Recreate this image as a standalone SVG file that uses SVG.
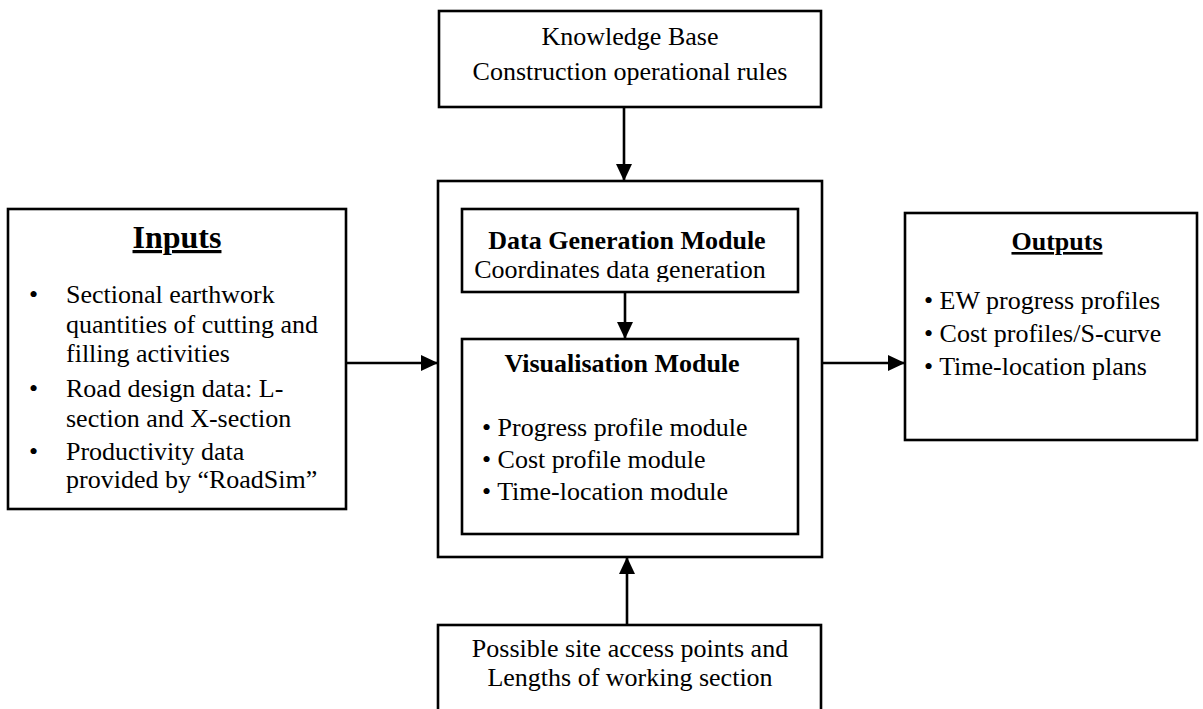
<svg xmlns="http://www.w3.org/2000/svg" width="1203" height="709" viewBox="0 0 1203 709">
<style>
.box{fill:#fff;stroke:#000;stroke-width:2.6}
.t{font-family:"Liberation Serif","Times New Roman",serif;font-size:26px;fill:#000}
.b{font-weight:bold}
.c{text-anchor:middle}
.u{text-decoration:underline}
.conn{stroke:#000;stroke-width:2.6;fill:none;marker-end:url(#ah)}
</style>
<defs>
<marker id="ah" markerWidth="17" markerHeight="16" viewBox="0 0 17 16" refX="17" refY="8" orient="auto" markerUnits="userSpaceOnUse">
<path d="M0,0 L17,8 L0,16 Z" fill="#000"/>
</marker>
<clipPath id="dgclip"><rect x="462" y="209" width="336" height="73"/></clipPath>
</defs>
<rect width="1203" height="709" fill="#fff"/>
<g id="knowledge-base">
<rect class="box" x="439" y="11" width="382" height="96"/>
<text class="t c" x="630" y="45">Knowledge Base</text>
<text class="t c" x="630" y="80">Construction operational rules</text>
</g>
<g id="inputs">
<rect class="box" x="8" y="209" width="338" height="300"/>
<text class="t b c u" x="177" y="248" style="font-size:32px">Inputs</text>
<text class="t" x="29" y="303">•</text><text class="t" x="66" y="303">Sectional earthwork</text>
<text class="t" x="66" y="333">quantities of cutting and</text>
<text class="t" x="66" y="362">filling activities</text>
<text class="t" x="29" y="397">•</text><text class="t" x="66" y="397">Road design data: L-</text>
<text class="t" x="66" y="427">section and X-section</text>
<text class="t" x="29" y="460">•</text><text class="t" x="66" y="460">Productivity data</text>
<text class="t" x="66" y="488">provided by “RoadSim”</text>
</g>
<g id="main">
<rect class="box" x="438" y="181" width="384" height="376"/>
</g>
<g id="data-generation">
<rect class="box" x="462" y="209" width="336" height="83"/>
<text class="t b c" x="627" y="249">Data Generation Module</text>
<text class="t c" x="620" y="278" clip-path="url(#dgclip)">Coordinates data generation</text>
</g>
<g id="visualisation">
<rect class="box" x="462" y="339" width="336" height="195"/>
<text class="t b c" x="622" y="372">Visualisation Module</text>
<text class="t" x="482" y="436">• Progress profile module</text>
<text class="t" x="482" y="468">• Cost profile  module</text>
<text class="t" x="482" y="500">• Time-location  module</text>
</g>
<g id="outputs">
<rect class="box" x="905" y="213" width="292" height="227"/>
<text class="t b c u" x="1057" y="250">Outputs</text>
<text class="t" x="924" y="309">• EW progress profiles</text>
<text class="t" x="924" y="342">• Cost profiles/S-curve</text>
<text class="t" x="924" y="375">• Time-location plans</text>
</g>
<g id="site-access">
<rect class="box" x="438" y="625" width="383" height="100"/>
<text class="t c" x="630" y="657">Possible site access points and</text>
<text class="t c" x="630" y="686">Lengths of working section</text>
</g>
<g id="connectors">
<line class="conn" x1="624" y1="107" x2="624" y2="181"/>
<line class="conn" x1="346" y1="363" x2="438" y2="363"/>
<line class="conn" x1="625" y1="292" x2="625" y2="339"/>
<line class="conn" x1="822" y1="363" x2="905" y2="363"/>
<line class="conn" x1="627" y1="625" x2="627" y2="557"/>
</g>
</svg>
